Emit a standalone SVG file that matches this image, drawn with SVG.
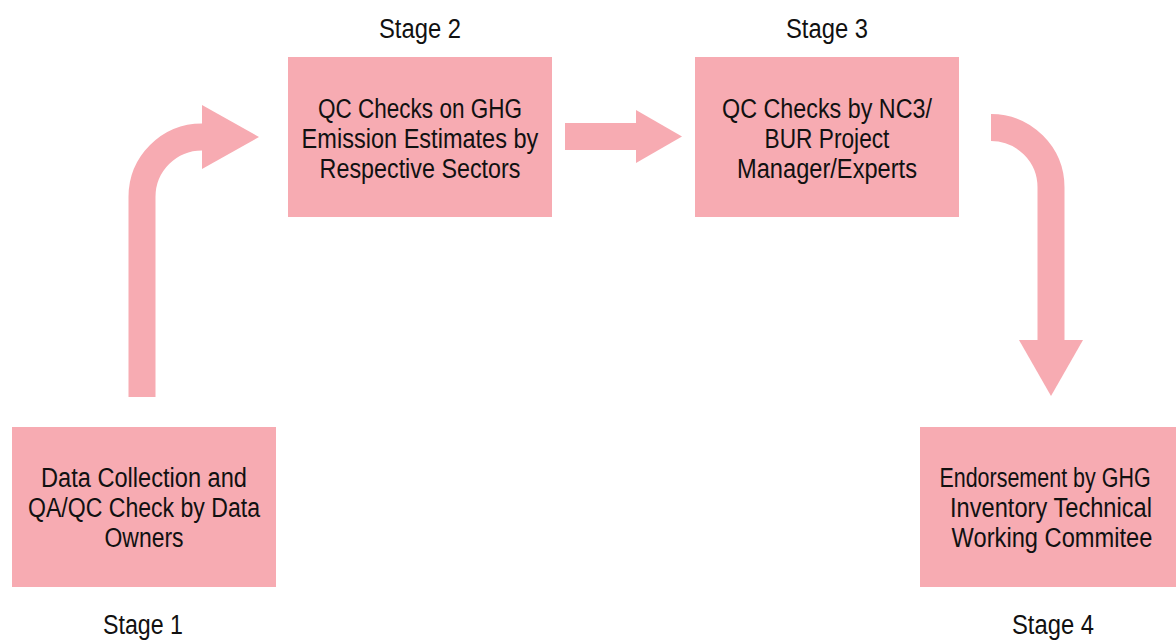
<svg xmlns="http://www.w3.org/2000/svg" width="1176" height="643" viewBox="0 0 1176 643">
<style>
.box{fill:#F7ABB2}
.t{font-family:"Liberation Sans",Arial,sans-serif;font-size:28px;fill:#111;text-anchor:middle}
.sh{fill:none;stroke:#F7ABB2;stroke-width:27}
.hd{fill:#F7ABB2}
</style>
<rect width="1176" height="643" fill="#fff"/>
<g id="connectors">
<path class="sh" d="M142,397 V197 A60,60 0 0 1 202,137 H204"/>
<polygon class="hd" points="202,105 259,137 202,169"/>
<path class="sh" d="M565,136.5 H638"/>
<polygon class="hd" points="636,110 682,136.5 636,163"/>
<path class="sh" d="M991,127.5 A60,60 0 0 1 1051,187.5 V342"/>
<polygon class="hd" points="1019,340 1083,340 1051,396"/>
</g>
<g id="stage1">
<rect class="box" x="12" y="427" width="264" height="160"/>
<text class="t" transform="translate(144,487) scale(0.8,1)" textLength="257.5" lengthAdjust="spacingAndGlyphs">Data Collection and</text>
<text class="t" transform="translate(144,517) scale(0.8,1)" textLength="290" lengthAdjust="spacingAndGlyphs">QA/QC Check by Data</text>
<text class="t" transform="translate(144,547) scale(0.8,1)" textLength="98.75" lengthAdjust="spacingAndGlyphs">Owners</text>
<text class="t" transform="translate(143,634) scale(0.8,1)" textLength="100" lengthAdjust="spacingAndGlyphs">Stage 1</text>
</g>
<g id="stage2">
<rect class="box" x="288" y="57" width="264" height="160"/>
<text class="t" transform="translate(420,118) scale(0.8,1)" textLength="255" lengthAdjust="spacingAndGlyphs">QC Checks on GHG</text>
<text class="t" transform="translate(420,148) scale(0.8,1)" textLength="296" lengthAdjust="spacingAndGlyphs">Emission Estimates by</text>
<text class="t" transform="translate(420,178) scale(0.8,1)" textLength="251" lengthAdjust="spacingAndGlyphs">Respective Sectors</text>
<text class="t" transform="translate(420,38) scale(0.8,1)" textLength="102.5" lengthAdjust="spacingAndGlyphs">Stage 2</text>
</g>
<g id="stage3">
<rect class="box" x="695" y="57" width="264" height="160"/>
<text class="t" transform="translate(827,118) scale(0.8,1)" textLength="262.5" lengthAdjust="spacingAndGlyphs">QC Checks by NC3/</text>
<text class="t" transform="translate(827,148) scale(0.8,1)" textLength="156" lengthAdjust="spacingAndGlyphs">BUR Project</text>
<text class="t" transform="translate(827,178) scale(0.8,1)" textLength="225" lengthAdjust="spacingAndGlyphs">Manager/Experts</text>
<text class="t" transform="translate(827,38) scale(0.8,1)" textLength="102.5" lengthAdjust="spacingAndGlyphs">Stage 3</text>
</g>
<g id="stage4">
<rect class="box" x="920" y="427" width="256" height="160"/>
<text class="t" transform="translate(1045,487) scale(0.8,1)" textLength="264" lengthAdjust="spacingAndGlyphs">Endorsement by GHG</text>
<text class="t" transform="translate(1051,517) scale(0.8,1)" textLength="252.5" lengthAdjust="spacingAndGlyphs">Inventory Technical</text>
<text class="t" transform="translate(1052,547) scale(0.8,1)" textLength="251" lengthAdjust="spacingAndGlyphs">Working Commitee</text>
<text class="t" transform="translate(1053,634) scale(0.8,1)" textLength="102.5" lengthAdjust="spacingAndGlyphs">Stage 4</text>
</g>
</svg>
